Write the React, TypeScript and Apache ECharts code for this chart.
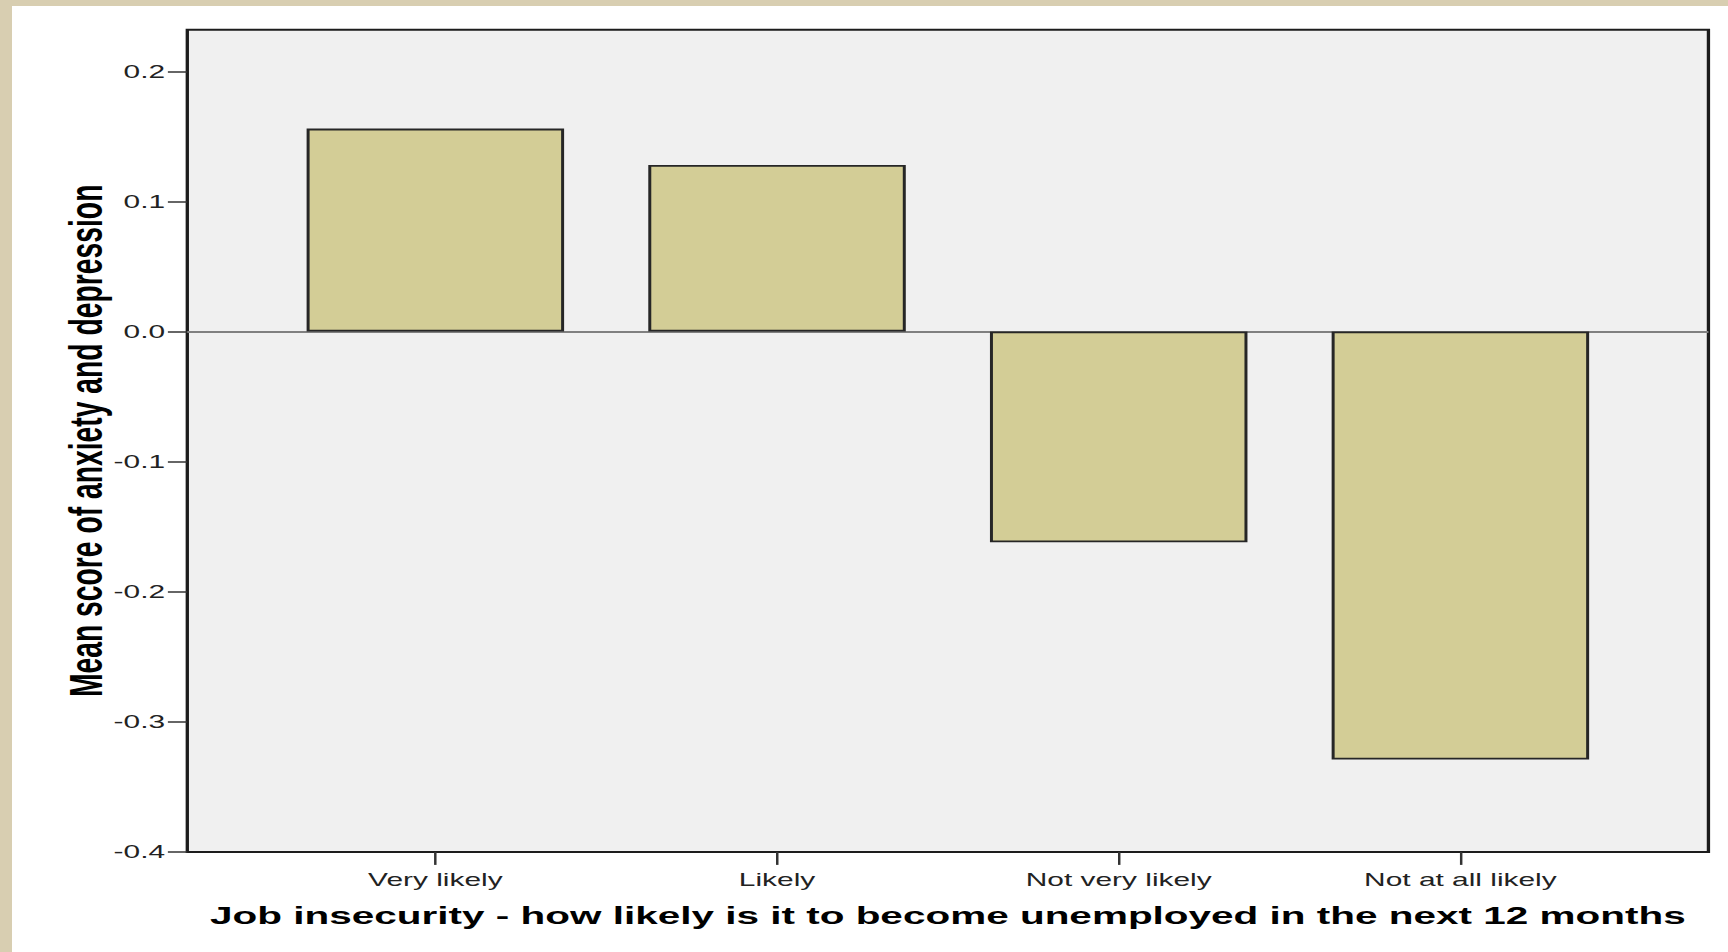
import React, { useEffect, useRef } from "react";
import * as echarts from "echarts";

// ---- data ----
const categories = ["Very likely", "Likely", "Not very likely", "Not at all likely"];
const meanScores = [0.156, 0.128, -0.162, -0.329];
const categoryPositions = [0, 1, 2, 3];
const yTickValues = [-0.4, -0.3, -0.2, -0.1, 0.0, 0.1, 0.2];
const yAxisTitle = "Mean score of anxiety and depression";
const xAxisTitle = "Job insecurity - how likely is it to become unemployed in the next 12 months";

// ---- layout (the reference picture is stretched horizontally) ----
const STRETCH = 1.66;
const PAGE_W = 1728;
const PAGE_H = 952;
const FRAME_LEFT = 12;
const FRAME_TOP = 6;
const INNER_W = (PAGE_W - FRAME_LEFT) / STRETCH;
const INNER_H = PAGE_H - FRAME_TOP;

// plot box in page pixels
const PLOT_L = 187.3;
const PLOT_R = 1708;
const PLOT_T = 29.75;
const PLOT_B = 851.9;

const nx = (px: number) => (px - FRAME_LEFT) / STRETCH;

export default function App() {
  const ref = useRef<HTMLDivElement>(null);

  useEffect(() => {
    if (!ref.current) return;
    const chart = echarts.init(ref.current, undefined, { renderer: "svg" });
    const font = "'Liberation Sans', Arial, sans-serif";
    chart.setOption({
      animation: false,
      backgroundColor: "#ffffff",
      grid: {
        left: nx(PLOT_L),
        right: INNER_W - nx(PLOT_R),
        top: PLOT_T - FRAME_TOP,
        bottom: INNER_H - (PLOT_B - FRAME_TOP),
        show: true,
        backgroundColor: "#f0f0f0",
        borderColor: "#1c1c1c",
        borderWidth: 2,
        containLabel: false,
      },
      xAxis: {
        type: "value",
        min: -0.726,
        max: 3.726,
        name: xAxisTitle,
        nameLocation: "middle",
        nameGap: 52,
        nameMoveOverlap: false,
        nameTextStyle: { fontFamily: font, fontSize: 24.4, fontWeight: "bold", color: "#000" },
        axisLine: { show: false, onZero: false },
        splitLine: { show: false },
        axisTick: {
          show: true,
          customValues: categoryPositions,
          length: 13,
          lineStyle: { color: "#333", width: 1.5 },
        },
        axisLabel: {
          customValues: categoryPositions,
          formatter: (v: number) => categories[Math.round(v)] ?? "",
          margin: 19,
          fontFamily: font,
          fontSize: 18,
          color: "#222",
        },
      },
      yAxis: {
        type: "value",
        min: -0.4,
        max: 0.232,
        name: yAxisTitle,
        nameLocation: "middle",
        nameRotate: 90,
        nameGap: 47.5,
        nameMoveOverlap: false,
        nameTextStyle: { fontFamily: font, fontSize: 28.3, fontWeight: "bold", color: "#000" },
        axisLine: { show: false, onZero: false },
        splitLine: { show: false },
        axisTick: {
          show: true,
          customValues: yTickValues,
          length: 11.7,
          lineStyle: { color: "#333", width: 1.5 },
        },
        axisLabel: {
          customValues: yTickValues,
          formatter: (v: number) => v.toFixed(1),
          margin: 13.4,
          fontFamily: font,
          fontSize: 18,
          color: "#222",
        },
      },
      series: [
        {
          type: "bar",
          data: categories.map((_, i) => [categoryPositions[i], meanScores[i]]),
          barWidth: 257.5 / STRETCH,
          itemStyle: { color: "#d3cd96", borderColor: "#262626", borderWidth: 1.8 },
          markLine: {
            z: 1,
            silent: true,
            symbol: ["none", "none"],
            label: { show: false },
            lineStyle: { color: "#808080", width: 2, type: "solid" },
            data: [{ yAxis: 0 }],
          },
        },
      ],
    });
    return () => chart.dispose();
  }, []);

  return (
    <div
      style={{
        position: "fixed",
        left: 0,
        top: 0,
        width: PAGE_W,
        height: PAGE_H,
        background: "#d8ceb1",
        overflow: "hidden",
      }}
    >
      <div
        ref={ref}
        style={{
          position: "absolute",
          left: FRAME_LEFT,
          top: FRAME_TOP,
          width: INNER_W,
          height: INNER_H,
          background: "#ffffff",
          transform: `scaleX(${STRETCH})`,
          transformOrigin: "0 0",
        }}
      />
    </div>
  );
}
